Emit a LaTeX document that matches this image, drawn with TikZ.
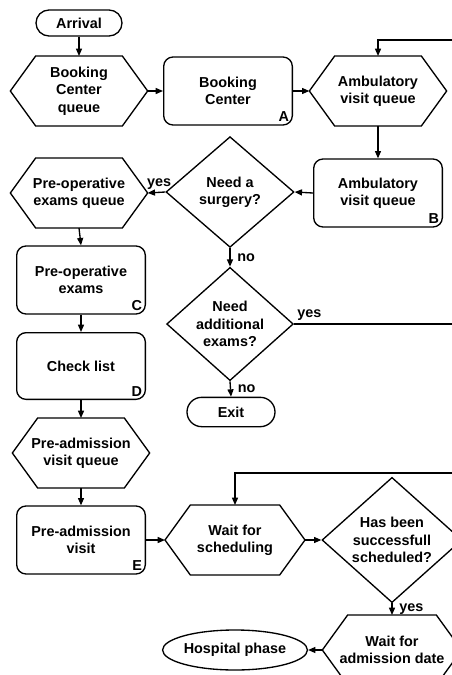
\documentclass[tikz,border=0pt]{standalone}
\usepackage{fontspec}
\setmainfont{Liberation Sans}
\usetikzlibrary{shapes.geometric, shapes.misc, arrows.meta, positioning, calc}

\begin{document}
\begin{tikzpicture}[x=0.75pt, y=-0.75pt, >={Triangle[length=5.5pt, width=4.5pt]}, line width=1pt,
    font=\bfseries\fontsize{10.8}{13}\selectfont,
    box/.style={draw, rectangle, rounded corners=7pt, minimum width=96.5pt, minimum height=51pt, align=center, inner sep=0pt},
    hexq/.style={rectangle, minimum width=102pt, minimum height=51.5pt, align=center, inner sep=0pt},
    decision/.style={draw, diamond, align=center, inner sep=0pt},
    terminal/.style={draw, rounded rectangle, align=center, inner sep=0pt},
    tag/.style={anchor=south east, inner sep=2.5pt},
    lbl/.style={inner sep=2pt}]
    \useasboundingbox (0,0) rectangle (452,675);
    \clip (0,0) rectangle (452,675);

    % left column and top row
    \node[terminal, minimum width=64.5pt, minimum height=19.5pt] (arrival) at (79,23) {Arrival};
    \node[hexq] (bcq) at (79,91) {Booking\\Center\\queue};
    \node[box] (bc) at (228,91) {Booking\\Center};
    \node[tag] (tagA) at (bc.south east) {A};
    \node[hexq] (avq) at (378,91) {Ambulatory\\visit queue};
    \node[box] (avb) at (378,193) {Ambulatory\\visit queue};
    \node[tag] (tagB) at (avb.south east) {B};
    \node[decision, minimum width=96pt, minimum height=83pt] (surg) at (230,192) {Need a\\surgery?};
    \node[hexq] (poq) at (79,193) {Pre-operative\\exams queue};
    \node[box] (poe) at (81,280) {Pre-operative\\exams};
    \node[tag] (tagC) at (poe.south east) {C};
    \node[box, minimum height=50pt] (chk) at (81,366) {Check list};
    \node[tag] (tagD) at (chk.south east) {D};
    \node[hexq] (paq) at (81,453) {Pre-admission\\visit queue};
    \node[box] (pav) at (81,540) {Pre-admission\\visit};
    \node[tag] (tagE) at (pav.south east) {E};

    % middle and right
    \node[decision, minimum width=95pt, minimum height=84pt] (addx) at (230,324) {Need\\additional\\exams?};
    \node[terminal, minimum width=66pt, minimum height=22pt] (exitn) at (231,412) {Exit};
    \node[hexq, minimum width=104pt] (wfs) at (235,540) {Wait for\\scheduling};
    \node[decision, minimum width=105pt, minimum height=85pt] (sched) at (392,540) {Has been\\successfull\\scheduled?};
    \node[hexq, minimum width=103.5pt] (wad) at (392,650) {Wait for\\admission date};
    \node[draw, ellipse, minimum width=105pt, minimum height=30pt, inner sep=0pt] (hosp) at (235,650) {Hospital phase};

    % queue outlines
    \foreach \q in {bcq, avq, poq, paq, wfs, wad}
        \draw (\q.west) -- ([xshift=19pt]\q.north west) -- ([xshift=-19pt]\q.north east) -- (\q.east)
            -- ([xshift=-19pt]\q.south east) -- ([xshift=19pt]\q.south west) -- cycle;

    \coordinate (loopR1) at (470,324);
    \coordinate (loopT1) at (470,40);
    \coordinate (loopR2) at (470,540);
    \coordinate (loopT2) at (470,473);

    \draw[->] (arrival.south) -- (bcq.north);
    \draw[->] (bcq.east) -- (bc.west);
    \draw[->] (bc.east) -- (avq.west);
    \draw[->] (avq.south) -- (avb.north);
    \draw[->] (avb.west) -- (surg.east);
    \draw[->] (surg.west) -- node[lbl, above, pos=0.35] {yes} (poq.east);
    \draw[->] (poq.south) -- (poe.north);
    \draw[->] (poe.south) -- (chk.north);
    \draw[->] (chk.south) -- (paq.north);
    \draw[->] (paq.south) -- (pav.north);
    \draw[->] (pav.east) -- (wfs.west);
    \draw[->] (wfs.east) -- (sched.west);
    \draw[->] (sched.south) -- node[lbl, right, xshift=3pt] {yes} (wad.north);
    \draw[->] (wad.west) -- (hosp.east);
    \draw[->] (surg.south) -- node[lbl, right, xshift=3pt] {no} (addx.north);
    \draw[->] (addx.south) -- node[lbl, right, xshift=3pt] {no} (exitn.north);
    \draw[->] (addx.east) -- node[lbl, above right, pos=0] {yes} (loopR1) |- (loopT1) -| (avq.north);
    \draw[->] (sched.east) -- (loopR2) |- (loopT2) -| (wfs.north);
\end{tikzpicture}
\end{document}
